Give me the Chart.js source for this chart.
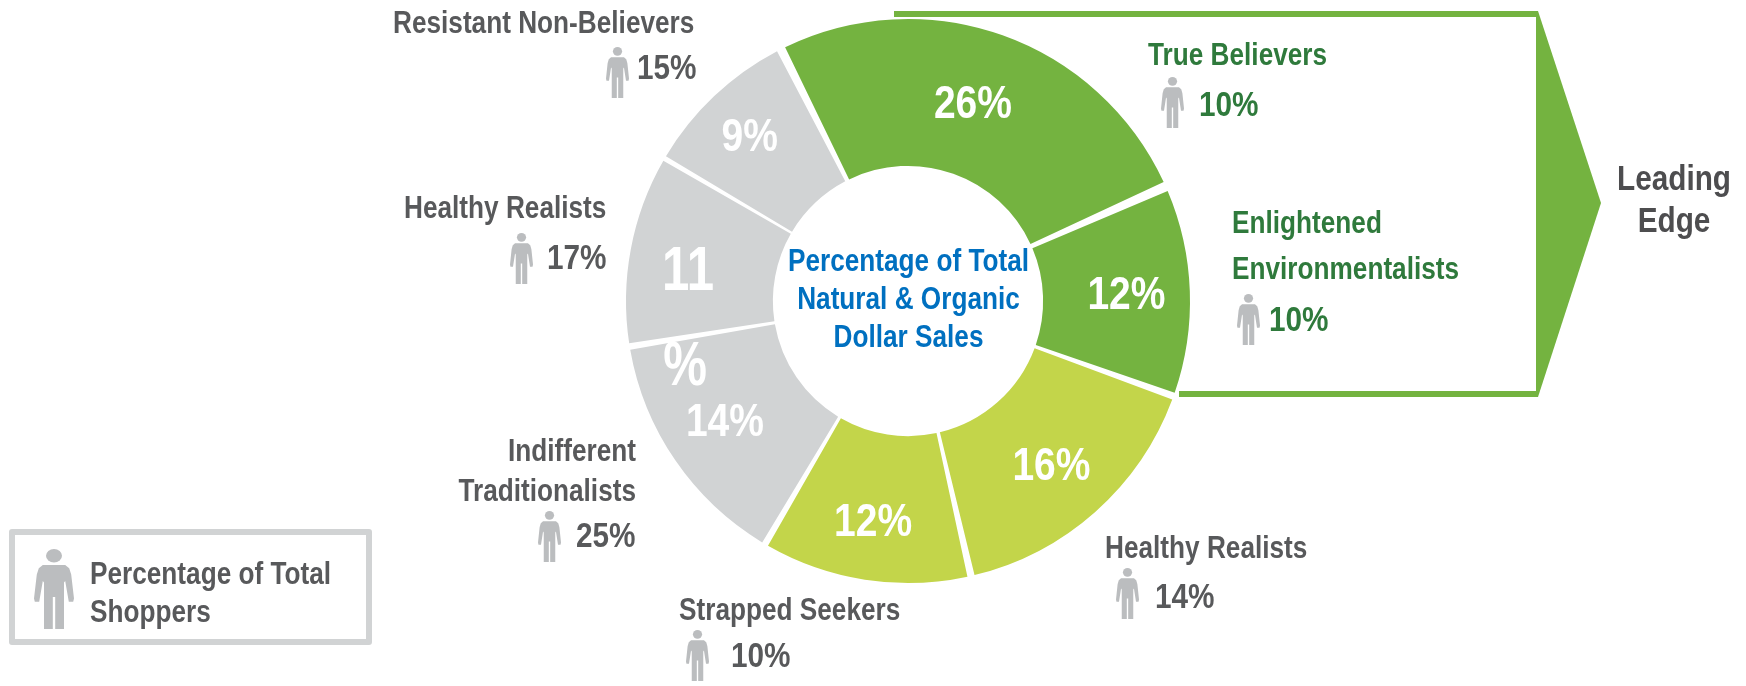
<!DOCTYPE html>
<html><head><meta charset="utf-8">
<style>html,body{margin:0;padding:0;background:#fff}#w{position:relative;width:1746px;height:686px}canvas{display:block}</style>
<script src="https://cdn.jsdelivr.net/npm/chart.js@4"></script>
</head><body><div id="w"><canvas id="c" width="1746" height="686"></canvas></div>
<script>
const categories = ['True Believers','Enlightened Environmentalists','Healthy Realists','Strapped Seekers','Indifferent Traditionalists','Healthy Realists','Resistant Non-Believers'];
const dollarShare = [26,12,16,12,14,11,9];
const shopperShare = [10,10,14,10,25,17,15];
const sliceColors = ['#74b340','#74b340','#c3d54a','#c3d54a','#d1d3d4','#d1d3d4','#d1d3d4'];
const centerTitle = ['Percentage of Total','Natural & Organic','Dollar Sales'];
const legendTitle = ['Percentage of Total','Shoppers'];
const edgeTitle = ['Leading','Edge'];

const GREY='#58595b', GREEN='#2f7a3c', BLUE='#0070c0', ICON='#bbbdbf', ARROW='#74b340';
const FAM='"Liberation Sans", Arial, sans-serif';

function txt(ctx,s,x,y,size,color,align,sx){
  ctx.save();ctx.font='bold '+size+'px '+FAM;ctx.fillStyle=color;ctx.textAlign=align||'left';ctx.textBaseline='alphabetic';
  ctx.translate(x,y);ctx.scale(sx||0.845,1);ctx.fillText(s,0,0);ctx.restore();
}
function person(ctx,x,y,w,h){
  const P=(u,v)=>[x+u*w,y+v*h];
  ctx.save();ctx.fillStyle=ICON;
  ctx.beginPath();ctx.ellipse(x+w/2,y+h*0.085,w*0.2,h*0.085,0,0,Math.PI*2);ctx.fill();
  ctx.beginPath();
  const pts=[[.22,.2],[.78,.2],[.88,.24],[.93,.32],[1,.62],[.98,.66],[.87,.66],[.78,.4],[.75,.42],[.75,1],[.53,1],[.53,.6],[.47,.6],[.47,1],[.25,1],[.25,.42],[.22,.4],[.13,.66],[.02,.66],[0,.62],[.07,.32],[.12,.24]];
  pts.forEach((p,i)=>{const q=P(p[0],p[1]);i?ctx.lineTo(q[0],q[1]):ctx.moveTo(q[0],q[1]);});
  ctx.closePath();ctx.fill();ctx.restore();
}
// layout of the callouts, index matches categories
const callouts=[
 {lines:['True Believers'],lx:[1148],ly:[65],align:'left',color:GREEN,ix:1161,iy:77,vx:1199,vy:116},
 {lines:['Enlightened','Environmentalists'],lx:[1232,1232],ly:[233,279],align:'left',color:GREEN,ix:1237,iy:294,vx:1269,vy:331},
 {lines:['Healthy Realists'],lx:[1105],ly:[558],align:'left',color:GREY,ix:1116,iy:568,vx:1155,vy:608},
 {lines:['Strapped Seekers'],lx:[679],ly:[620],align:'left',color:GREY,ix:686,iy:630,vx:731,vy:667},
 {lines:['Indifferent','Traditionalists'],lx:[636,636],ly:[461,501],align:'right',color:GREY,ix:538,iy:511,vx:576,vy:547},
 {lines:['Healthy Realists'],lx:[404],ly:[218],align:'left',color:GREY,ix:510,iy:233,vx:547,vy:269},
 {lines:['Resistant Non-Believers'],lx:[393],ly:[33],align:'left',color:GREY,ix:606,iy:47,vx:637,vy:79}
];
// slice label offsets from each arc's centre point
const sliceLabel=[
 {dx:-5,dy:13,size:47,sx:.83},{dx:10,dy:15,size:47,sx:.83},{dx:5,dy:23,size:47,sx:.83},{dx:-3,dy:29,size:47,sx:.83},
 {dx:-11,dy:17,size:47,sx:.83},{dx:-15,dy:27,size:63,sx:.78,split:95},{dx:-15,dy:2,size:47,sx:.83}
];

const overlay={id:'overlay',
 beforeDatasetsDraw(chart){
  const ctx=chart.ctx;ctx.save();ctx.fillStyle=ARROW;
  ctx.fillRect(894,11,643,6);
  ctx.fillRect(1179,391,358,6);
  ctx.beginPath();ctx.moveTo(1536,11);ctx.lineTo(1538,11);ctx.lineTo(1601,203);ctx.lineTo(1538,397);ctx.lineTo(1536,397);ctx.closePath();ctx.fill();
  ctx.lineWidth=6;ctx.strokeStyle='#d1d3d4';ctx.lineJoin='round';ctx.strokeRect(12,532,357,110);
  ctx.restore();
 },
 afterDatasetsDraw(chart){
  const ctx=chart.ctx,arcs=chart.getDatasetMeta(0).data;
  arcs.forEach((a,i)=>{
   const c=a.getCenterPoint(),o=sliceLabel[i],v=dollarShare[i];
   if(o.split){
     txt(ctx,String(v),c.x+o.dx,c.y+o.dy,o.size,'#fff','center',o.sx);
     txt(ctx,'%',c.x+o.dx-3,c.y+o.dy+o.split,o.size,'#fff','center',o.sx);
   } else txt(ctx,v+'%',c.x+o.dx,c.y+o.dy,o.size,'#fff','center',o.sx);
   const k=callouts[i];
   k.lines.forEach((s,j)=>txt(ctx,s,k.lx[j],k.ly[j],31,k.color,k.align));
   person(ctx,k.ix,k.iy,23,51);
   txt(ctx,shopperShare[i]+'%',k.vx,k.vy,35,k.color,'left',.85);
  });
  centerTitle.forEach((s,i)=>txt(ctx,s,908.5,[271,309,347][i],31,BLUE,'center'));
  legendTitle.forEach((s,i)=>txt(ctx,s,90,[584,622][i],31,GREY,'left'));
  person(ctx,34,549,40,80);
  edgeTitle.forEach((s,i)=>txt(ctx,s,1674,[190,232][i],35,'#4d4d4f','center',.85));
 }
};
new Chart(document.getElementById('c'),{
 type:'doughnut',
 data:{labels:categories,datasets:[{data:dollarShare,backgroundColor:sliceColors,borderWidth:0,spacing:12,radius:276,cutout:138}]},
 options:{responsive:false,animation:false,rotation:-27.2,cutout:138,
  layout:{padding:{left:607,right:537,top:0,bottom:84}},
  plugins:{legend:{display:false},tooltip:{enabled:false}}},
 plugins:[overlay]
});
</script></body></html>
